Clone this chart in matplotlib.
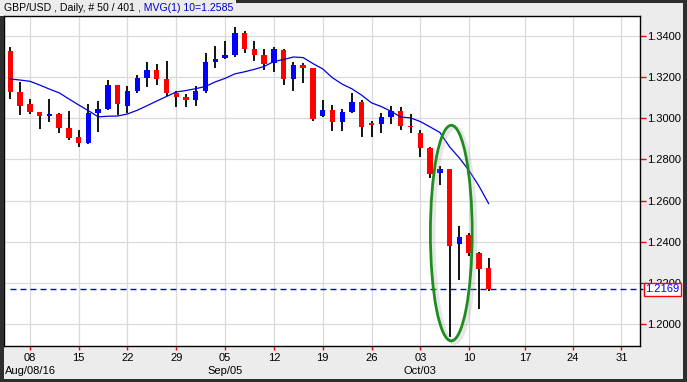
import numpy as np
import pandas as pd
import matplotlib
matplotlib.use("Agg")
import matplotlib.pyplot as plt
import matplotlib.transforms as mtransforms
from matplotlib.patches import Ellipse, Rectangle

plt.rcParams['font.family'] = ['Liberation Sans', 'DejaVu Sans']

# GBP/USD daily bars, 04 Aug 2016 - 12 Oct 2016
dates = pd.bdate_range("2016-08-04", "2016-10-12")

opens = [1.3327, 1.3129, 1.3069, 1.3031, 1.3011, 1.3021, 1.2954, 1.2909, 1.2881, 1.3026,
         1.3045, 1.3162, 1.3060, 1.3133, 1.3197, 1.3235, 1.3191, 1.3124, 1.3103, 1.3089,
         1.3133, 1.3274, 1.3295, 1.3309, 1.3413, 1.3337, 1.3309, 1.3270, 1.3332, 1.3192,
         1.3259, 1.3244, 1.3011, 1.3040, 1.2983, 1.3032, 1.3079, 1.2976, 1.2971, 1.3008,
         1.3035, 1.2964, 1.2930, 1.2854, 1.2733, 1.2753, 1.2387, 1.2433, 1.2347, 1.2272]
highs = [1.3348, 1.3178, 1.3094, 1.3031, 1.3094, 1.3026, 1.3037, 1.2943, 1.3069, 1.3084,
         1.3186, 1.3162, 1.3157, 1.3210, 1.3275, 1.3265, 1.3280, 1.3133, 1.3118, 1.3158,
         1.3319, 1.3351, 1.3376, 1.3445, 1.3424, 1.3376, 1.3335, 1.3347, 1.3338, 1.3275,
         1.3270, 1.3244, 1.3089, 1.3065, 1.3044, 1.3121, 1.3089, 1.2987, 1.3024, 1.3060,
         1.3053, 1.3019, 1.2943, 1.2862, 1.2769, 1.2753, 1.2476, 1.2441, 1.2351, 1.2322]
lows = [1.3094, 1.3016, 1.3022, 1.2949, 1.2983, 1.2930, 1.2894, 1.2862, 1.2874, 1.2935,
        1.3040, 1.3016, 1.3024, 1.3124, 1.3154, 1.3162, 1.3108, 1.3056, 1.3056, 1.3061,
        1.3124, 1.3246, 1.3289, 1.3299, 1.3316, 1.3280, 1.3235, 1.3226, 1.3160, 1.3134,
        1.3173, 1.2988, 1.3008, 1.2940, 1.2938, 1.3024, 1.2910, 1.2910, 1.2930, 1.2971,
        1.2943, 1.2930, 1.2813, 1.2711, 1.2676, 1.1938, 1.2214, 1.2332, 1.2073, 1.2162]
closes = [1.3129, 1.3061, 1.3032, 1.3013, 1.3021, 1.2954, 1.2906, 1.2881, 1.3027, 1.3045,
          1.3162, 1.3069, 1.3133, 1.3194, 1.3235, 1.3191, 1.3124, 1.3105, 1.3090, 1.3133,
          1.3275, 1.3287, 1.3308, 1.3413, 1.3338, 1.3309, 1.3265, 1.3337, 1.3192, 1.3259,
          1.3246, 1.2997, 1.3040, 1.2983, 1.3029, 1.3079, 1.2959, 1.2969, 1.3005, 1.3035,
          1.2964, 1.2959, 1.2857, 1.2728, 1.2753, 1.2379, 1.2423, 1.2347, 1.2269, 1.2169]
# 10-day moving average as plotted
ma10 = [1.3191, 1.3186, 1.3180, 1.3162, 1.3142, 1.3124, 1.3094, 1.3065, 1.3037, 1.3007,
        1.3010, 1.3011, 1.3021, 1.3039, 1.3061, 1.3084, 1.3106, 1.3128, 1.3135, 1.3144,
        1.3155, 1.3177, 1.3194, 1.3216, 1.3226, 1.3238, 1.3252, 1.3276, 1.3286, 1.3298,
        1.3295, 1.3266, 1.3240, 1.3197, 1.3166, 1.3143, 1.3112, 1.3075, 1.3057, 1.3034,
        1.3006, 1.3002, 1.2984, 1.2958, 1.2931, 1.2861, 1.2807, 1.2745, 1.2671, 1.2585]

price_ticks = [1.20, 1.22, 1.24, 1.26, 1.28, 1.30, 1.32, 1.34]
future_labels = ["17", "24", "31"]
future_pos = [52.7, 57.65, 62.6]
month_labels = {"2016-09-05": "Sep/05", "2016-10-03": "Oct/03"}

x = np.arange(len(dates))
o = np.array(opens); c = np.array(closes)
up = c >= o
body_lo = np.minimum(o, c)
body_hi = np.maximum(o, c)

bg = '#ECECEC'
fig = plt.figure(figsize=(6.87, 3.82), dpi=100, facecolor=bg)
ax = fig.add_axes([4 / 687, 36 / 382, 636 / 687, 330 / 382])
ax.set_facecolor('white')

# wicks (above and below the body) and bodies
ax.vlines(x, body_hi, highs, color='black', lw=1.3, zorder=3)
ax.vlines(x, lows, body_lo, color='black', lw=1.3, zorder=3)
ax.bar(x, np.maximum(body_hi - body_lo, 0.0004), bottom=body_lo, width=0.55,
       color=np.where(up, '#0000FF', '#FF0000'), lw=0, zorder=4)

ax.plot(x, ma10, color='#0000E0', lw=0.9, zorder=5)

# last price line
ax.plot([0, 64.8], [closes[-1]] * 2, color='#0000D0', lw=1.0,
        dashes=(4.3, 2.9), zorder=2, clip_on=False)

# highlight around the crash bar
crash = int(np.argmin(lows))
ell_c = (crash + 0.17, 1.2442)
shadow = mtransforms.offset_copy(ax.transData, fig=fig, x=3, y=-2, units='dots')
ax.add_patch(Ellipse(ell_c, 4.28, 0.1048, fill=False, ec='#A0A0A0', lw=3.0,
                     alpha=0.25, transform=shadow, zorder=6))
ax.add_patch(Ellipse(ell_c, 4.28, 0.1048, fill=False, ec='#1E8C1E', lw=2.0, zorder=7))

ax.set_xlim(-0.645, 64.5)
ax.set_ylim(1.18929, 1.34973)

mondays = [i for i, d in enumerate(dates) if d.weekday() == 0]
xt = mondays + future_pos
xl = [dates[i].strftime("%d") for i in mondays] + future_labels
ax.set_xticks(xt)
ax.set_xticklabels(xl)
ax.set_yticks(price_ticks)
ax.set_yticklabels([f"{v:.4f}" for v in price_ticks])
ax.yaxis.tick_right()
ax.tick_params(axis='both', colors='red', labelcolor='black', labelsize=8, width=1)
ax.tick_params(axis='x', length=3, pad=2)
ax.tick_params(axis='y', length=4, pad=1)
ax.grid(True, color='#DADADA', lw=0.9, zorder=0)
ax.set_axisbelow(True)
for s in ax.spines.values():
    s.set_color('black')
    s.set_linewidth(1.0)

# month row
blend = mtransforms.blended_transform_factory(ax.transData, ax.transAxes)
ax.text(0.001, -25 / 330, "Aug/08/16", transform=ax.transAxes, ha='left', va='center', fontsize=8)
for d, lab in month_labels.items():
    i = list(dates).index(pd.Timestamp(d))
    ax.text(i, -25 / 330, lab, transform=blend, ha='center', va='center', fontsize=8)

# last price tag
ax.annotate(f"{closes[-1]:.4f}", xy=(1, closes[-1]), xycoords=('axes fraction', 'data'),
            xytext=(5.5, 0), textcoords='offset pixels', ha='left', va='center',
            color='#0000FF', fontsize=8, annotation_clip=False, zorder=10,
            bbox=dict(boxstyle='square,pad=0.15', fc='white', ec='red', lw=1.0))

# title, black part then blue indicator part
t = fig.text(4 / 687, 1 - 8 / 382, "GBP/USD , Daily, # 50 / 401 ", ha='left', va='center',
             fontsize=7.6, color='black')
fig.add_artist(plt.Annotation(", MVG(1) 10=1.2585", xy=(1, 0), xycoords=t,
                              va='bottom', ha='left', fontsize=7.6, color='#0000CC'))

# dark frame
dark = '#2E2E2E'
for (fx, fy, fw, fh) in [(0, 0, 4, 366), (683, 0, 4, 382), (0, 0, 687, 3), (236, 379, 451, 3)]:
    fig.add_artist(Rectangle((fx / 687, fy / 382), fw / 687, fh / 382, transform=fig.transFigure,
                             fc=dark, ec='none', zorder=20))

fig.savefig("out.png", dpi=100, facecolor=bg)
